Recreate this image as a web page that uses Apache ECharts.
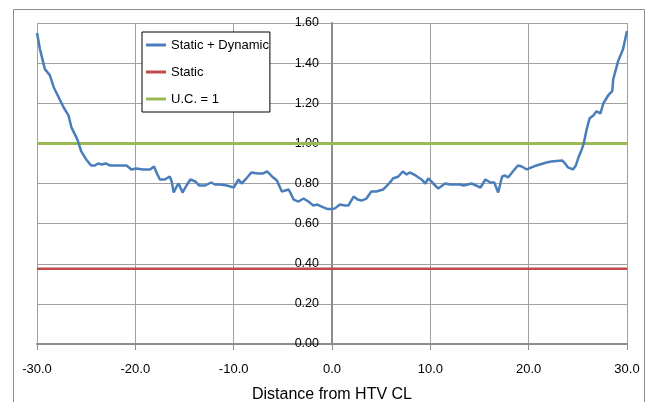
<!DOCTYPE html>
<html>
<head>
<meta charset="utf-8">
<script src="https://cdn.jsdelivr.net/npm/echarts@6/dist/echarts.min.js"></script>
<style>
html,body{margin:0;padding:0;background:#fff;}
#chart{width:651px;height:402px;}
</style>
</head>
<body>
<div id="chart"></div>
<script>
// Data
const distance = [-30.0,-29.7,-29.2,-28.7,-28.3,-27.8,-27.3,-26.8,-26.5,-25.9,-25.5,-25.0,-24.5,-24.1,-23.8,-23.4,-23.0,-22.6,-21.9,-20.9,-20.4,-19.9,-19.2,-18.5,-18.1,-17.8,-17.5,-17.0,-16.5,-16.3,-16.1,-15.8,-15.6,-15.2,-14.8,-14.4,-13.9,-13.5,-12.9,-12.3,-11.9,-11.4,-10.7,-10.0,-9.5,-9.2,-8.8,-8.2,-7.5,-7.0,-6.6,-6.1,-5.6,-5.1,-4.4,-3.9,-3.4,-2.9,-2.4,-1.9,-1.5,-1.05,-0.5,0.0,0.3,0.8,1.3,1.66,2.2,2.6,3.0,3.5,4.0,4.5,5.2,5.9,6.2,6.75,7.2,7.6,7.9,8.5,9.1,9.5,9.8,10.3,10.8,11.5,12.0,13.0,13.4,14.2,15.1,15.6,16.1,16.5,16.9,17.3,17.6,17.9,18.4,18.9,19.3,19.8,20.3,20.8,21.8,22.3,23.4,23.7,24.0,24.5,24.8,25.1,25.4,25.6,25.9,26.2,26.6,26.9,27.3,27.6,28.1,28.5,28.6,29.1,29.6,30.0];
const staticDynamic = [1.55,1.47,1.37,1.34,1.28,1.23,1.18,1.14,1.08,1.02,0.96,0.92,0.89,0.89,0.90,0.895,0.90,0.89,0.89,0.89,0.87,0.875,0.87,0.87,0.885,0.85,0.82,0.82,0.835,0.81,0.755,0.785,0.80,0.755,0.79,0.82,0.81,0.79,0.79,0.805,0.795,0.795,0.79,0.78,0.82,0.80,0.82,0.855,0.85,0.85,0.86,0.835,0.815,0.76,0.77,0.72,0.71,0.725,0.71,0.69,0.695,0.685,0.673,0.673,0.676,0.695,0.69,0.69,0.735,0.72,0.715,0.725,0.76,0.76,0.77,0.805,0.825,0.835,0.86,0.845,0.855,0.84,0.82,0.80,0.825,0.80,0.775,0.80,0.795,0.795,0.79,0.80,0.78,0.82,0.805,0.805,0.755,0.835,0.84,0.83,0.86,0.89,0.885,0.87,0.88,0.89,0.905,0.91,0.915,0.90,0.88,0.87,0.89,0.935,0.97,1.00,1.07,1.125,1.14,1.16,1.15,1.20,1.24,1.26,1.32,1.41,1.47,1.56];
const lineEnds = [-30, 30];
const staticValue = 0.375;
const ucValue = 1.0;
const seriesNames = ['Static + Dynamic', 'Static', 'U.C. = 1'];
const xTitle = 'Distance from HTV CL';

const FONT = "'Liberation Sans', Arial, sans-serif";
const chart = echarts.init(document.getElementById('chart'), null, {renderer: 'canvas'});
chart.setOption({
  animation: false,
  backgroundColor: '#fff',
  textStyle: {fontFamily: FONT},
  graphic: [{
    type: 'rect',
    shape: {x: 13.5, y: 9.5, width: 631, height: 400},
    style: {fill: 'none', stroke: '#8c8c8c', lineWidth: 1},
    silent: true
  }],
  grid: {left: 37, right: 24, top: 23, bottom: 58, containLabel: false, outerBoundsMode: 'none'},
  legend: {
    orient: 'vertical',
    left: 142, top: 32,
    padding: [5, 1, 5, 4],
    backgroundColor: '#fff',
    borderColor: '#000',
    borderWidth: 1,
    borderRadius: 0,
    itemWidth: 20, itemHeight: 3,
    itemGap: 11,
    itemTextGap: 2,
    icon: 'rect',
    textStyle: {fontFamily: FONT, fontSize: 13, color: '#000', lineHeight: 16},
    data: seriesNames
  },
  xAxis: {
    type: 'value', min: -30, max: 30, interval: 10,
    axisLine: {onZero: false, lineStyle: {color: '#8c8c8c', width: 2}},
    axisTick: {show: true, length: 6, lineStyle: {color: '#8c8c8c'}},
    axisLabel: {fontFamily: FONT, fontSize: 13, color: '#000', margin: 19, formatter: v => v.toFixed(1)},
    splitLine: {show: true, lineStyle: {color: '#a0a0a0', width: 1}},
    name: xTitle,
    nameLocation: 'middle',
    nameGap: 43,
    nameTextStyle: {fontFamily: FONT, fontSize: 16, color: '#000'}
  },
  yAxis: {
    type: 'value', min: 0, max: 1.6, interval: 0.2,
    position: 'left',
    offset: -295,
    axisLine: {show: true, onZero: false, lineStyle: {color: '#8c8c8c', width: 2}},
    axisTick: {show: false},
    axisLabel: {fontFamily: FONT, fontSize: 12.5, color: '#000', margin: 13, formatter: v => v.toFixed(2)},
    splitLine: {show: true, lineStyle: {color: '#a0a0a0', width: 1}}
  },
  series: [
    {
      name: seriesNames[0], type: 'line', symbol: 'none', z: 3,
      data: distance.map((d, i) => [d, staticDynamic[i]]),
      lineStyle: {color: '#4a7ebb', width: 2.5},
      itemStyle: {color: '#4a7ebb'}
    },
    {
      name: seriesNames[1], type: 'line', symbol: 'none', z: 2,
      data: lineEnds.map(d => [d, staticValue]),
      lineStyle: {color: '#be4b48', width: 2.5},
      itemStyle: {color: '#be4b48'}
    },
    {
      name: seriesNames[2], type: 'line', symbol: 'none', z: 2,
      data: lineEnds.map(d => [d, ucValue]),
      lineStyle: {color: '#98b954', width: 3},
      itemStyle: {color: '#98b954'}
    }
  ]
});
</script>
</body>
</html>
